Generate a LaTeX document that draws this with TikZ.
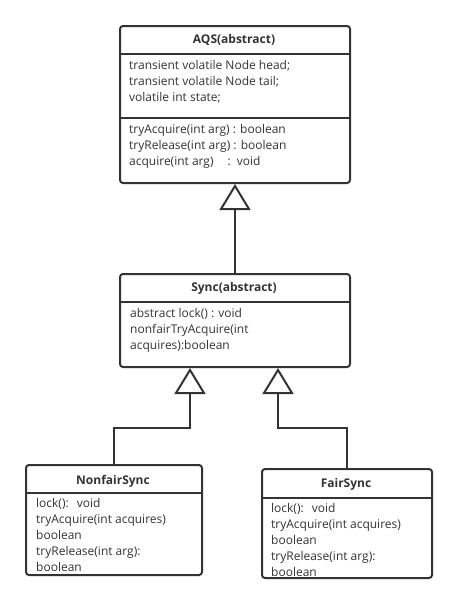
\documentclass[tikz,border=0pt]{standalone}
\usepackage{fontspec}
\setmainfont{Open Sans}
\usetikzlibrary{arrows.meta}
\definecolor{ink}{HTML}{333333}
\tikzset{
  classbox/.style={draw=ink, line width=2pt, rounded corners=3pt, anchor=north west, inner sep=0pt},
  sepline/.style={draw=ink, line width=2pt},
  classtitle/.style={font=\bfseries\fontsize{12}{16}\selectfont, text=ink, inner sep=0pt},
  members/.style={font=\fontsize{12}{16}\selectfont, text=ink, align=left, anchor=north west, inner sep=0pt},
  inh/.style={draw=ink, line width=2pt, -{Triangle[open, length=26pt, width=31pt]}},
}
\begin{document}
\begin{tikzpicture}[x=1pt, y=-1pt]
\useasboundingbox (0,0) rectangle (457,603);
% AQS
\node[classbox, minimum width=230pt, minimum height=157pt] (aqs) at (119,25) {};
\node[classtitle] (aqsT) at (234,40) {AQS(abstract)};
\draw[sepline] (aqs.west |- 0,54) -- (aqs.east |- 0,54);
\draw[sepline] (aqs.west |- 0,118) -- (aqs.east |- 0,118);
\node[members] (aqsA) at (129,60) {transient volatile Node head;\\transient volatile Node tail;\\volatile int state;};
\node[members] (aqsM) at (129,124) {tryAcquire(int arg) : boolean\\tryRelease(int arg) : boolean\\acquire(int arg)\hspace{14pt}:\hspace{6pt}void};
% Sync
\node[classbox, minimum width=230pt, minimum height=93pt] (sync) at (119,273) {};
\node[classtitle] (syncT) at (234,288) {Sync(abstract)};
\draw[sepline] (sync.west |- 0,302) -- (sync.east |- 0,302);
\node[members] (syncM) at (130,308) {abstract lock() : void\\nonfairTryAcquire(int\\acquires):boolean};
% NonfairSync
\node[classbox, minimum width=176pt, minimum height=110pt] (nonfair) at (25,464) {};
\node[classtitle] (nonfairT) at (113,481) {NonfairSync};
\draw[sepline] (nonfair.west |- 0,493) -- (nonfair.east |- 0,493);
\node[members] (nonfairM) at (36,498.5) {lock():\hspace{8pt}void\\tryAcquire(int acquires)\\boolean\\tryRelease(int arg):\\boolean};
% FairSync
\node[classbox, minimum width=170pt, minimum height=109pt] (fair) at (261,468) {};
\node[classtitle] (fairT) at (346,484) {FairSync};
\draw[sepline] (fair.west |- 0,498) -- (fair.east |- 0,498);
\node[members] (fairM) at (271,503.5) {lock():\hspace{8pt}void\\tryAcquire(int acquires)\\boolean\\tryRelease(int arg):\\boolean};
% connectors
\coordinate (sL) at ([xshift=-45pt]sync.south);
\coordinate (sR) at ([xshift=43pt]sync.south);
\draw[inh] (sync.north) -- (aqs.south);
\draw[inh] (nonfair.north) -- (nonfair.north |- 0,428) -| (sL);
\draw[inh] (fair.north) -- (fair.north |- 0,428) -| (sR);
\end{tikzpicture}
\end{document}
